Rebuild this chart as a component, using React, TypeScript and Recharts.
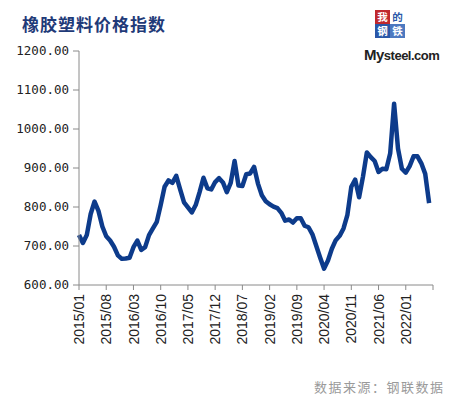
import React from 'react';
import { LineChart, Line, XAxis, YAxis } from 'recharts';

// 橡胶塑料价格指数, monthly from 2015/01
const V2015 = [728, 708, 728, 782, 814, 790, 750, 725, 714, 698, 676, 667];
const V2016 = [668, 670, 697, 714, 690, 697, 728, 745, 762, 805, 852, 868];
const V2017 = [862, 880, 845, 812, 799, 786, 805, 838, 875, 848, 845, 864];
const V2018 = [874, 863, 838, 862, 918, 855, 854, 884, 886, 903, 860, 830];
const V2019 = [815, 807, 801, 797, 785, 765, 768, 760, 771, 771, 752, 748];
const V2020 = [730, 700, 670, 642, 663, 693, 715, 726, 745, 780, 852, 870];
const V2021 = [825, 878, 940, 928, 918, 890, 898, 897, 938, 1065, 950, 898];
const V2022 = [888, 905, 930, 930, 912, 885, 810];

const TICK_LABELS = [
  '2015/01', '2015/08', '2016/03', '2016/10', '2017/05', '2017/12', '2018/07',
  '2019/02', '2019/09', '2020/04', '2020/11', '2021/06', '2022/01', '',
];
const Y_TICKS = [600, 700, 800, 900, 1000, 1100, 1200];

const TICK_STEP = 7;
const X_TICKS = TICK_LABELS.map((_, i) => i * TICK_STEP);

const values = [...V2015, ...V2016, ...V2017, ...V2018, ...V2019, ...V2020, ...V2021, ...V2022];
const data = values.map((v, i) => ({ i, v }));

const LINE = '#0d3b8b';
const AXIS = '#8a8a8a';

// logo cells: char, column, row, background, text colour
const LOGO = [
  { ch: '我', c: 0, r: 0, bg: '#c0282d', fg: '#fff' },
  { ch: '的', c: 1, r: 0, bg: '#ffffff', fg: '#2a57a8' },
  { ch: '钢', c: 0, r: 1, bg: '#2a57a8', fg: '#fff' },
  { ch: '铁', c: 1, r: 1, bg: '#4d79c0', fg: '#fff' },
];

const XTick = (props: any) => {
  const { x, y, payload } = props;
  const label = TICK_LABELS[Math.round(payload.value / TICK_STEP)] ?? '';
  return (
    <g transform={`translate(${x},${y})`}>
      <text
        transform="rotate(-90)"
        textAnchor="end"
        dy="0.36em"
        fontSize={14}
        fontFamily="'Liberation Sans', Arial, sans-serif"
        fill="#222"
      >
        {label}
      </text>
    </g>
  );
};

export default function App() {
  return (
    <div style={{ position: 'absolute', left: 0, top: 0, width: 458, height: 397, background: '#fff' }}>
      <div
        style={{
          position: 'absolute',
          left: 22,
          top: 12,
          fontSize: 17,
          fontWeight: 700,
          letterSpacing: 1,
          color: '#1f3a78',
          fontFamily: "'Noto Sans CJK SC', sans-serif",
          lineHeight: '24px',
        }}
      >
        橡胶塑料价格指数
      </div>

      {/* logo */}
      {LOGO.map((cell) => (
        <div
          key={cell.ch}
          style={{
            position: 'absolute',
            left: 375 + cell.c * 15,
            top: 10 + cell.r * 14,
            width: 15,
            height: 14,
            background: cell.bg,
            color: cell.fg,
            fontSize: 10.5,
            lineHeight: '14px',
            fontWeight: 700,
            textAlign: 'center',
            fontFamily: "'Noto Sans CJK SC', sans-serif",
          }}
        >
          {cell.ch}
        </div>
      ))}
      <div
        style={{
          position: 'absolute',
          left: 364,
          top: 46,
          fontSize: 13,
          fontWeight: 700,
          letterSpacing: -0.5,
          color: '#222',
          fontFamily: "'Liberation Sans', Arial, sans-serif",
        }}
      >
        <span style={{ fontSize: 15 }}>My</span>steel.com
      </div>

      <LineChart
        width={458}
        height={397}
        data={data}
        margin={{ top: 51, right: 25, left: 0, bottom: 52 }}
      >
        <XAxis
          type="number"
          dataKey="i"
          domain={[0, 91]}
          ticks={X_TICKS}
          interval={0}
          tick={<XTick />}
          tickSize={5}
          tickMargin={4}
          height={60}
          stroke={AXIS}
          tickLine={{ stroke: AXIS }}
        />
        <YAxis
          domain={[600, 1200]}
          ticks={Y_TICKS}
          interval={0}
          width={79}
          tickSize={6}
          tickMargin={4}
          stroke={AXIS}
          tickLine={{ stroke: AXIS }}
          tick={{ fontSize: 12.5, fill: '#222', fontFamily: "'DejaVu Sans Mono', monospace" }}
          tickFormatter={(v: number) => v.toFixed(2)}
        />
        <Line
          type="linear"
          dataKey="v"
          stroke={LINE}
          strokeWidth={4.5}
          strokeLinejoin="round"
          dot={false}
          isAnimationActive={false}
        />
      </LineChart>

      <div
        style={{
          position: 'absolute',
          left: 314,
          top: 378,
          fontSize: 13,
          letterSpacing: 1.5,
          color: '#9a9a9a',
          fontFamily: "'Noto Sans CJK SC', sans-serif",
          lineHeight: '18px',
        }}
      >
        数据来源：钢联数据
      </div>
    </div>
  );
}
